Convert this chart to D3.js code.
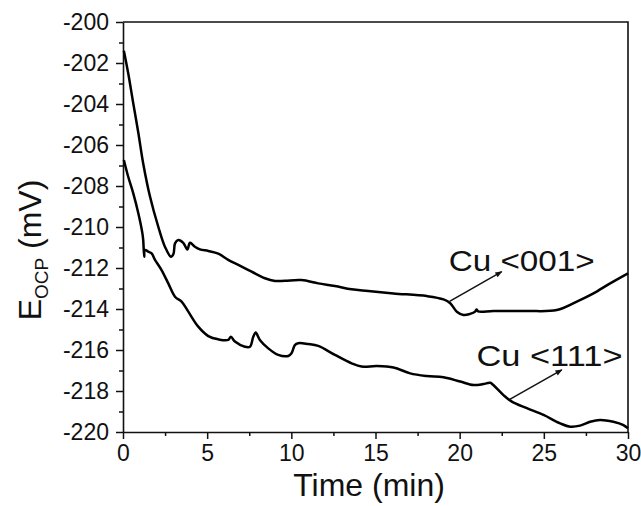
<!DOCTYPE html>
<html><head><meta charset="utf-8">
<script src="https://cdn.jsdelivr.net/npm/d3@7"></script>
<style>
html,body{margin:0;padding:0;background:#fff;}
text{font-family:Arial,"Liberation Sans",sans-serif;fill:#111;}
</style></head>
<body><svg id="c" width="641" height="506"></svg>
<script>
// Cu <001>
const t001 = [0.05,0.31,0.61,0.91,1.2,1.6,2.1,2.49,2.85,3.0,3.09,3.28,3.58,3.82,3.98,4.27,4.57,5.07,5.66,6.25,6.85,7.64,8.43,9.03,9.62,10.6,11.6,12.59,13.58,14.57,16.07,18.05,19.04,19.44,19.83,20.23,20.62,20.92,21.0,21.1,22.0,24.0,25.77,26.96,27.95,28.94,30];
const v001 = [-201.4,-202.5,-203.97,-205.4,-206.9,-208.5,-210.0,-210.96,-211.45,-211.3,-210.8,-210.63,-210.77,-211.1,-210.77,-210.96,-211.09,-211.17,-211.3,-211.6,-211.85,-212.18,-212.5,-212.63,-212.62,-212.59,-212.75,-212.88,-213.04,-213.12,-213.24,-213.37,-213.53,-213.72,-214.13,-214.29,-214.24,-214.13,-214.02,-214.12,-214.1,-214.1,-214.05,-213.64,-213.24,-212.75,-212.26];
// Cu <111>
const t111 = [0.05,0.31,0.61,0.91,1.15,1.2,1.26,1.3,1.5,1.7,1.9,2.29,2.69,3.09,3.48,3.88,4.47,5.07,5.66,6.25,6.41,6.65,7.24,7.54,7.74,7.88,8.13,8.63,9.22,9.82,10.01,10.21,10.41,11.0,11.6,12.59,13.58,14.17,15.08,16.07,17.06,18.05,19.04,20.03,20.82,21.41,21.81,22.0,22.6,23.1,23.99,24.98,25.97,26.56,27.15,27.75,28.34,29.13,29.73,30];
const v111 = [-206.73,-207.55,-208.36,-209.33,-210.3,-210.63,-211.45,-211.12,-211.2,-211.29,-211.6,-212.1,-212.75,-213.4,-213.64,-214.13,-214.86,-215.32,-215.48,-215.51,-215.35,-215.59,-215.84,-215.84,-215.35,-215.15,-215.51,-215.92,-216.24,-216.29,-216.16,-215.76,-215.67,-215.71,-215.8,-216.24,-216.65,-216.81,-216.78,-216.85,-217.14,-217.27,-217.33,-217.54,-217.71,-217.66,-217.6,-217.71,-218.2,-218.52,-218.84,-219.17,-219.58,-219.74,-219.69,-219.5,-219.41,-219.5,-219.66,-219.82];

const xTicks = [0,5,10,15,20,25,30];
const yTicks = [-200,-202,-204,-206,-208,-210,-212,-214,-216,-218,-220];
const seriesNames = ["Cu <001>","Cu <111>"];
// annotation: label anchor (t,v) and arrow from/to (t,v)
const labelPos = [[19.35,-212.15],[21.0,-216.8]];
const arrowFrom = [[19.4,-213.63],[23.0,-218.4]];
const arrowTo = [[22.5,-212.18],[26.07,-216.97]];

const W=641,H=506, m={top:22,left:123,right:13,bottom:74};
const svg=d3.select("#c");
const x=d3.scaleLinear().domain([0,30]).range([m.left,W-m.right]);
const y=d3.scaleLinear().domain([-220,-200]).range([H-m.bottom,m.top]);

svg.append("defs").append("marker").attr("id","ah").attr("viewBox","0 0 10 10")
  .attr("refX",9).attr("refY",5).attr("markerWidth",10).attr("markerHeight",7)
  .attr("markerUnits","userSpaceOnUse").attr("orient","auto")
  .append("path").attr("d","M0,1 L10,5 L0,9 Z").attr("fill","#111");

// minor ticks
const xa=d3.axisBottom(x).tickValues(d3.range(2.5,30,5)).tickSize(4).tickFormat("");
const ya=d3.axisLeft(y).tickValues(d3.range(-219,-200,2)).tickSize(4).tickFormat("");
[svg.append("g").attr("transform",`translate(0,${H-m.bottom})`).call(xa),
 svg.append("g").attr("transform",`translate(${m.left},0)`).call(ya)].forEach(g=>{
  g.select(".domain").remove(); g.selectAll("line").attr("stroke","#111").attr("stroke-width",1.5);});

const gx=svg.append("g").attr("transform",`translate(0,${H-m.bottom})`)
  .call(d3.axisBottom(x).tickValues(xTicks).tickSize(7).tickSizeOuter(0).tickPadding(6));
const gy=svg.append("g").attr("transform",`translate(${m.left},0)`)
  .call(d3.axisLeft(y).tickValues(yTicks).tickSize(7).tickSizeOuter(0).tickPadding(7));
[gx,gy].forEach(g=>{g.select(".domain").attr("stroke","#111").attr("stroke-width",1.6);
  g.selectAll("line").attr("stroke","#111").attr("stroke-width",1.5);
  g.selectAll("text").attr("font-size",23).attr("font-family","Arial,'Liberation Sans',sans-serif").attr("fill","#111");});
gy.selectAll("text").text(d=>d3.format("d")(d).replace("−","-"));
// top/right frame
svg.append("path").attr("d",`M${m.left},${m.top}H${W-m.right}V${H-m.bottom}`)
  .attr("fill","none").attr("stroke","#111").attr("stroke-width",1.6);

const line=d3.line().x(d=>x(d[0])).y(d=>y(d[1])).curve(d3.curveCatmullRom.alpha(0.5));
[[t001,v001],[t111,v111]].forEach(([t,v])=>{
  svg.append("path").datum(t.map((d,i)=>[d,v[i]])).attr("d",line)
   .attr("fill","none").attr("stroke","#000").attr("stroke-width",2.5).attr("stroke-linejoin","round");
});

seriesNames.forEach((n,i)=>{
  svg.append("line").attr("x1",x(arrowFrom[i][0])).attr("y1",y(arrowFrom[i][1]))
    .attr("x2",x(arrowTo[i][0])).attr("y2",y(arrowTo[i][1]))
    .attr("stroke","#111").attr("stroke-width",1.5).attr("marker-end","url(#ah)");
  svg.append("text").attr("x",x(labelPos[i][0])).attr("y",y(labelPos[i][1]))
    .attr("font-size",29).attr("textLength",146).attr("lengthAdjust","spacingAndGlyphs").text(n);
});

svg.append("text").attr("x",369).attr("y",496).attr("text-anchor","middle")
  .attr("font-size",32).text("Time (min)");
const yl=svg.append("text").attr("transform","translate(41,250) rotate(-90)").attr("text-anchor","middle").attr("font-size",32);
yl.append("tspan").text("E");
yl.append("tspan").attr("font-size",19).attr("dy",7).text("OCP");
yl.append("tspan").attr("dy",-7).text(" (mV)");
</script></body></html>
